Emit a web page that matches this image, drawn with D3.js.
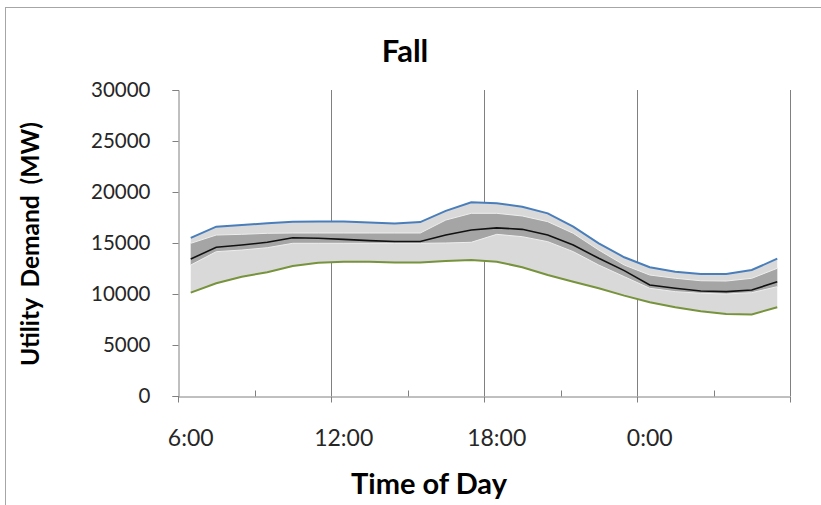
<!DOCTYPE html>
<html>
<head>
<meta charset="utf-8">
<script src="https://cdn.jsdelivr.net/npm/d3@7"></script>
<style>
  html, body { margin: 0; padding: 0; background: #fff; }
  svg { display: block; font-family: Lato, "Open Sans", sans-serif; }
</style>
</head>
<body>
<svg id="chart" width="821" height="505"></svg>
<script>
// Hourly categories, 6:00 through 5:00 the next morning
const hours = ["6:00","7:00","8:00","9:00","10:00","11:00","12:00","13:00","14:00","15:00","16:00","17:00",
               "18:00","19:00","20:00","21:00","22:00","23:00","0:00","1:00","2:00","3:00","4:00","5:00"];

// Demand statistics per hour (MW)
const maxDemand  = [15500,16600,16760,16930,17080,17100,17100,17020,16900,17050,18150,18990,
                    18900,18560,17910,16600,14970,13600,12620,12190,11960,11960,12350,13460];
const upperBand  = [14970,15780,15850,15950,15980,15980,15980,15980,15980,15980,17250,17910,
                    17910,17650,17090,15950,14310,12840,11860,11540,11300,11270,11540,12520];
const meanDemand = [13430,14580,14800,15070,15520,15460,15360,15230,15150,15150,15780,16270,
                    16480,16340,15780,14800,13500,12290,10880,10560,10290,10230,10390,11200];
const lowerBand  = [12840,14150,14310,14540,14970,14970,14970,14970,14970,14970,15000,15070,
                    15850,15620,15130,14150,12840,11700,10560,10230,10070,10000,10130,10720];
const minDemand  = [10130,11050,11700,12130,12750,13070,13170,13170,13090,13090,13240,13330,
                    13170,12620,11860,11210,10560,9840,9200,8700,8300,8050,8000,8700];

const yTicks = [0,5000,10000,15000,20000,25000,30000];
const xLabelHours = ["6:00","12:00","18:00","0:00"];

const svg = d3.select("#chart");
const plotLeft = 178, plotRight = 790, plotTop = 90, plotBottom = 396;
const axisGrey = "#808080";

// chart frame
svg.append("rect")
  .attr("x", 5.5).attr("y", 7.5)
  .attr("width", 830).attr("height", 520)
  .attr("fill", "none").attr("stroke", "#a6a6a6").attr("stroke-width", 1);

const x = d3.scaleBand().domain(hours).range([plotLeft, plotRight]).paddingInner(0).paddingOuter(0);
const xEdge = d3.scaleLinear().domain([0, hours.length]).range([plotLeft, plotRight]);
const y = d3.scaleLinear().domain([0, 30000]).range([plotBottom, plotTop]);
const cx = (i) => x(hours[i]) + x.bandwidth() / 2;

// vertical gridlines every six hours
const grid = svg.append("g");
[6, 12, 18, 24].forEach(k => {
  grid.append("line")
    .attr("x1", Math.round(xEdge(k)) + 0.5).attr("x2", Math.round(xEdge(k)) + 0.5)
    .attr("y1", plotTop).attr("y2", plotBottom)
    .attr("stroke", axisGrey).attr("stroke-width", 1);
});

const idx = d3.range(hours.length);

// min-max envelope
svg.append("path")
  .datum(idx)
  .attr("fill", "#d9d9d9")
  .attr("d", d3.area().x(cx).y0(i => y(minDemand[i])).y1(i => y(maxDemand[i])));

// inner band
svg.append("path")
  .datum(idx)
  .attr("fill", "#a5a5a5")
  .attr("d", d3.area().x(cx).y0(i => y(lowerBand[i])).y1(i => y(upperBand[i])));

const lineOf = (arr) => d3.line().x(cx).y(i => y(arr[i]));

// faint edges of the inner band
[upperBand, lowerBand].forEach(arr => {
  svg.append("path").datum(idx)
    .attr("fill", "none").attr("stroke", "#eeeeee").attr("stroke-width", 1)
    .attr("d", lineOf(arr));
});

svg.append("path").datum(idx)
  .attr("fill", "none").attr("stroke", "#4a7ebb").attr("stroke-width", 2)
  .attr("d", lineOf(maxDemand));
svg.append("path").datum(idx)
  .attr("fill", "none").attr("stroke", "#77933c").attr("stroke-width", 2)
  .attr("d", lineOf(minDemand));
svg.append("path").datum(idx)
  .attr("fill", "none").attr("stroke", "#111111").attr("stroke-width", 1.6)
  .attr("d", lineOf(meanDemand));

// y axis
const yAxis = svg.append("g")
  .attr("transform", `translate(${plotLeft + 0.5},0)`)
  .call(d3.axisLeft(y).tickValues(yTicks).tickSize(6).tickPadding(22).tickFormat(d3.format("d")));
yAxis.select(".domain").attr("stroke", axisGrey);
yAxis.selectAll(".tick line").attr("stroke", axisGrey);
yAxis.selectAll("text").attr("font-size", 20.5).attr("fill", "#262626")
  .attr("font-family", "Lato, 'Open Sans', sans-serif");

// x axis: boundary ticks every three hours
const xAxis = svg.append("g")
  .attr("transform", `translate(0,${plotBottom + 0.5})`)
  .call(d3.axisBottom(xEdge).tickValues(d3.range(0, 25, 3)).tickSize(0).tickFormat(""));
xAxis.select(".domain").attr("stroke", axisGrey);
xAxis.selectAll(".tick line").remove();
d3.range(0, 25, 3).forEach(k => {
  const major = k % 6 === 0;
  xAxis.append("line")
    .attr("x1", Math.round(xEdge(k)) + 0.5).attr("x2", Math.round(xEdge(k)) + 0.5)
    .attr("y1", major ? 0 : -6).attr("y2", major ? 6 : 0)
    .attr("stroke", axisGrey);
});

// hour labels centred on their category
svg.append("g").selectAll("text")
  .data(xLabelHours)
  .join("text")
  .attr("x", d => x(d) + x.bandwidth() / 2)
  .attr("y", 446)
  .attr("text-anchor", "middle")
  .attr("font-size", 23)
  .attr("fill", "#262626")
  .text(d => d);

// titles
svg.append("text")
  .attr("x", 405).attr("y", 62)
  .attr("text-anchor", "middle")
  .attr("font-size", 31).attr("font-weight", "bold").attr("fill", "#000")
  .text("Fall");

svg.append("text")
  .attr("x", 429).attr("y", 494)
  .attr("text-anchor", "middle")
  .attr("font-size", 29).attr("font-weight", "bold").attr("fill", "#000")
  .text("Time of Day");

svg.append("text")
  .attr("transform", "translate(39,244) rotate(-90)")
  .attr("text-anchor", "middle")
  .attr("font-size", 24.5).attr("font-weight", "bold").attr("fill", "#000")
  .attr("word-spacing", 5)
  .text("Utility Demand (MW)");
</script>
</body>
</html>
